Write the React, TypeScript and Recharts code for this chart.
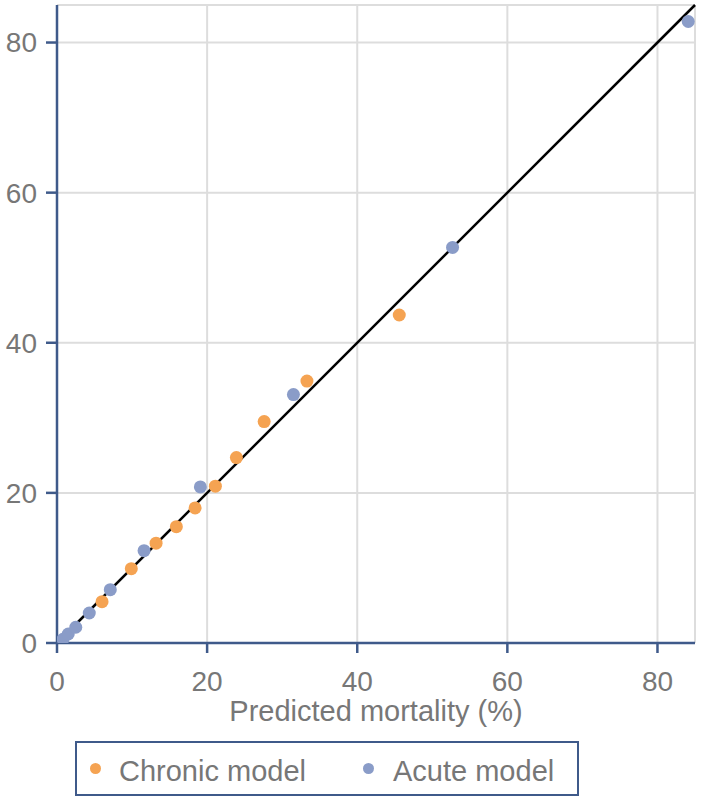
import {
  ScatterChart,
  Scatter,
  XAxis,
  YAxis,
  CartesianGrid,
  ReferenceLine,
  Label,
} from "recharts";

const axisTicks = [0, 20, 40, 60, 80];

const chronicX = [6.0, 9.9, 13.2, 15.9, 18.4, 21.1, 23.9, 27.6, 33.3, 45.6];
const chronicY = [5.5, 9.9, 13.3, 15.5, 18.0, 20.9, 24.7, 29.5, 34.9, 43.7];

const acuteX = [0.8, 1.5, 2.5, 4.3, 7.1, 11.6, 19.1, 31.5, 52.7, 84.1];
const acuteY = [0.5, 1.2, 2.1, 4.0, 7.1, 12.3, 20.8, 33.1, 52.7, 82.8];

const chronic = chronicX.map((x, i) => ({ x, y: chronicY[i] }));
const acute = acuteX.map((x, i) => ({ x, y: acuteY[i] }));

const ORANGE = "#F5A352";
const BLUE = "#8A9CC8";
const AXIS = "#3F5A8A";
const TEXT = "#777777";
const FONT = "'Liberation Sans', Arial, sans-serif";

const dot = (color: string) => (props: any) =>
  <circle cx={props.cx} cy={props.cy} r={6.5} fill={color} />;

export default function App() {
  return (
    <div
      style={{
        position: "absolute",
        left: 0,
        top: 0,
        width: 701,
        height: 798,
        fontFamily: FONT,
        background: "#fff",
      }}
    >
      <ScatterChart
        width={701}
        height={730}
        margin={{ top: 5, right: 6, left: 0, bottom: 0 }}
        style={{ fontFamily: FONT }}
      >
        <CartesianGrid stroke="#dddddd" strokeWidth={2} />
        <XAxis
          type="number"
          dataKey="x"
          domain={[0, 85]}
          ticks={axisTicks}
          allowDataOverflow
          height={87}
          tickSize={10}
          tickMargin={18}
          axisLine={{ stroke: AXIS, strokeWidth: 2.5 }}
          tickLine={{ stroke: AXIS, strokeWidth: 2.5 }}
          tick={{ fill: TEXT, fontSize: 28 }}
        >
          <Label
            content={(p: any) => {
              const vb = p.viewBox;
              return (
                <text
                  x={vb.x + vb.width / 2}
                  y={721}
                  textAnchor="middle"
                  fill={TEXT}
                  fontSize={29}
                >
                  Predicted mortality (%)
                </text>
              );
            }}
          />
        </XAxis>
        <YAxis
          type="number"
          dataKey="y"
          domain={[0, 85]}
          ticks={axisTicks}
          allowDataOverflow
          width={57}
          tickSize={11}
          tickMargin={9}
          axisLine={{ stroke: AXIS, strokeWidth: 2.5 }}
          tickLine={{ stroke: AXIS, strokeWidth: 2.5 }}
          tick={{ fill: TEXT, fontSize: 28 }}
        />
        <ReferenceLine
          segment={[
            { x: 0, y: 0 },
            { x: 85, y: 85 },
          ]}
          stroke="#000"
          strokeWidth={2.5}
        />
        <Scatter
          name="Acute model"
          data={acute}
          fill={BLUE}
          shape={dot(BLUE)}
          isAnimationActive={false}
        />
        <Scatter
          name="Chronic model"
          data={chronic}
          fill={ORANGE}
          shape={dot(ORANGE)}
          isAnimationActive={false}
        />
      </ScatterChart>
      <div
        style={{
          position: "absolute",
          left: 75,
          top: 741,
          width: 500,
          height: 51,
          border: `2px solid ${AXIS}`,
          boxSizing: "content-box",
          color: TEXT,
          fontSize: 29,
        }}
      >
        <span
          style={{
            position: "absolute",
            left: 13,
            top: 20,
            width: 11,
            height: 11,
            borderRadius: "50%",
            background: ORANGE,
          }}
        />
        <span style={{ position: "absolute", left: 42, top: 11, lineHeight: "34px", whiteSpace: "nowrap" }}>
          Chronic model
        </span>
        <span
          style={{
            position: "absolute",
            left: 286,
            top: 20,
            width: 11,
            height: 11,
            borderRadius: "50%",
            background: BLUE,
          }}
        />
        <span style={{ position: "absolute", left: 316, top: 11, lineHeight: "34px", whiteSpace: "nowrap" }}>
          Acute model
        </span>
      </div>
    </div>
  );
}
